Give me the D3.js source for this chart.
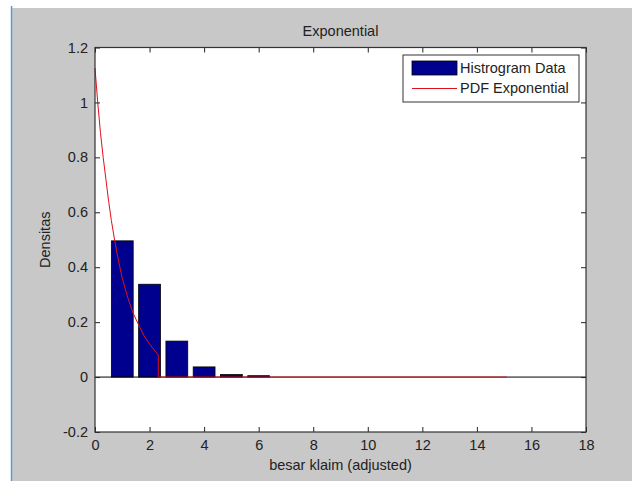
<!DOCTYPE html>
<html>
<head>
<meta charset="utf-8">
<script src="https://cdnjs.cloudflare.com/ajax/libs/d3/7.8.5/d3.min.js"></script>
<style>
  body { margin: 0; background: #fff; }
  svg text { font-family: "Liberation Sans", Arial, sans-serif; fill: #222; }
</style>
</head>
<body>
<div id="chart"></div>
<script>
// histogram bins (centre of bar) and density
var binCenters = [1, 2, 3, 4, 5, 6];
var binDensity = [0.496, 0.338, 0.131, 0.037, 0.009, 0.005];

// fitted pdf
var pdfX = [0, 0.1, 0.2, 0.3, 0.4, 0.5, 0.6, 0.7, 0.8, 0.9, 1.0, 1.2, 1.4, 1.6, 1.8, 2.0, 2.2, 2.32, 2.32, 15.1];
var pdfY = [1.125, 1.0, 0.89, 0.80, 0.72, 0.64, 0.57, 0.51, 0.455, 0.405, 0.36, 0.29, 0.232, 0.19, 0.15, 0.12, 0.095, 0.08, 0, 0];

var xTicks = [0, 2, 4, 6, 8, 10, 12, 14, 16, 18];
var yTicks = [-0.2, 0, 0.2, 0.4, 0.6, 0.8, 1, 1.2];
var legendLabels = ["Histrogram Data", "PDF Exponential"];

var W = 632, H = 481;
var pLeft = 95, pRight = 586, pTop = 47.5, pBottom = 432;
var barWidth = 0.8;

var svg = d3.select("#chart").append("svg")
    .attr("width", W).attr("height", H);

// window background (screenshot look)
svg.append("rect").attr("width", W).attr("height", H).attr("fill", "#fff");
svg.append("rect").attr("x", 12).attr("y", 8).attr("width", W - 12).attr("height", H - 8)
    .attr("fill", "#c8c8c8");
svg.append("line").attr("x1", 11.5).attr("x2", 11.5).attr("y1", 6).attr("y2", H)
    .attr("stroke", "#5b9bd5").attr("stroke-width", 1.5);

var x = d3.scaleLinear().domain([0, 18]).range([pLeft, pRight]);
var y = d3.scaleLinear().domain([-0.2, 1.2]).range([pBottom, pTop]);

svg.append("rect")
    .attr("x", pLeft).attr("y", pTop)
    .attr("width", pRight - pLeft).attr("height", pBottom - pTop)
    .attr("fill", "#fff");

// bars
svg.selectAll(".bar").data(binCenters).enter().append("rect")
    .attr("class", "bar")
    .attr("x", function(d) { return x(d - barWidth / 2); })
    .attr("width", function(d) { return x(d + barWidth / 2) - x(d - barWidth / 2); })
    .attr("y", function(d, i) { return y(binDensity[i]); })
    .attr("height", function(d, i) { return y(0) - y(binDensity[i]); })
    .attr("fill", "#00008f")
    .attr("stroke", "#000")
    .attr("stroke-width", 0.8);

// baseline
svg.append("line")
    .attr("x1", pLeft).attr("x2", pRight)
    .attr("y1", y(0)).attr("y2", y(0))
    .attr("stroke", "#000").attr("stroke-width", 1);

// pdf line
var line = d3.line()
    .x(function(d, i) { return x(pdfX[i]); })
    .y(function(d) { return y(d); });
svg.append("path")
    .datum(pdfY)
    .attr("d", line)
    .attr("fill", "none")
    .attr("stroke", "#e0101a")
    .attr("stroke-width", 1);

// axes, ticks inward like matlab
var fmt = function(d) { return String(+d.toFixed(1)); };
svg.append("g").attr("transform", "translate(0," + pBottom + ")")
    .call(d3.axisBottom(x).tickValues(xTicks).tickSize(-5).tickPadding(8).tickFormat(fmt));
svg.append("g").attr("transform", "translate(0," + pTop + ")")
    .call(d3.axisTop(x).tickValues(xTicks).tickSize(-5).tickFormat(""));
svg.append("g").attr("transform", "translate(" + pLeft + ",0)")
    .call(d3.axisLeft(y).tickValues(yTicks).tickSize(-5).tickPadding(7).tickFormat(fmt));
svg.append("g").attr("transform", "translate(" + pRight + ",0)")
    .call(d3.axisRight(y).tickValues(yTicks).tickSize(-5).tickFormat(""));

svg.selectAll(".domain").remove();
svg.selectAll(".tick line").attr("stroke", "#222");
svg.selectAll(".tick text").attr("font-size", "14.5px").attr("fill", "#222");

svg.append("rect")
    .attr("x", pLeft).attr("y", pTop)
    .attr("width", pRight - pLeft).attr("height", pBottom - pTop)
    .attr("fill", "none").attr("stroke", "#333").attr("stroke-width", 1.2);

// title and labels
svg.append("text").attr("x", (pLeft + pRight) / 2).attr("y", 36)
    .attr("text-anchor", "middle").attr("font-size", "14.5px").text("Exponential");
svg.append("text").attr("x", (pLeft + pRight) / 2).attr("y", 470)
    .attr("text-anchor", "middle").attr("font-size", "14.5px").text("besar klaim (adjusted)");
svg.append("text")
    .attr("transform", "translate(50," + (pTop + pBottom) / 2 + ") rotate(-90)")
    .attr("text-anchor", "middle").attr("font-size", "14.5px").text("Densitas");

// legend
var lg = svg.append("g");
lg.append("rect").attr("x", 403).attr("y", 55).attr("width", 176).attr("height", 47)
    .attr("fill", "#fff").attr("stroke", "#333").attr("stroke-width", 1);
lg.append("rect").attr("x", 412).attr("y", 61).attr("width", 45).attr("height", 14)
    .attr("fill", "#00008f").attr("stroke", "#000").attr("stroke-width", 0.8);
lg.append("line").attr("x1", 412).attr("x2", 457).attr("y1", 88.5).attr("y2", 88.5)
    .attr("stroke", "#e0101a").attr("stroke-width", 1);
lg.selectAll(".lt").data(legendLabels).enter().append("text")
    .attr("class", "lt")
    .attr("x", 460)
    .attr("y", function(d, i) { return 73 + i * 20; })
    .attr("font-size", "14.5px")
    .text(function(d) { return d; });
</script>
</body>
</html>
